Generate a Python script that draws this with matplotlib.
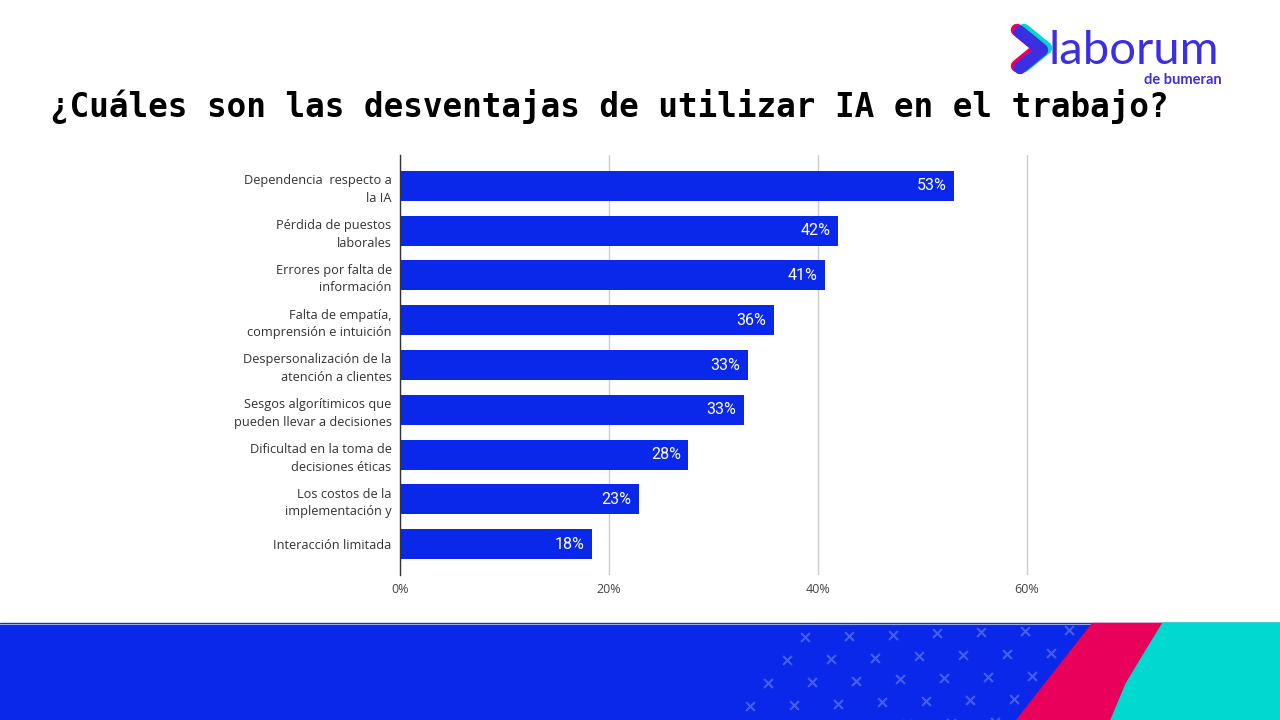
import numpy as np
import matplotlib
matplotlib.use("Agg")
import matplotlib.pyplot as plt
from matplotlib.patches import Rectangle, Polygon

# data
categories = [
    "Dependencia  respecto a\nla IA",
    "Pérdida de puestos\nlaborales",
    "Errores por falta de\ninformación",
    "Falta de empatía,\ncomprensión e intuición",
    "Despersonalización de la\natención a clientes",
    "Sesgos algorítimicos que\npueden llevar a decisiones",
    "Dificultad en la toma de\ndecisiones éticas",
    "Los costos de la\nimplementación y",
    "Interacción limitada",
]
shares = [53.0, 41.9, 40.7, 35.8, 33.3, 32.9, 27.6, 22.9, 18.4]
value_labels = ["53%", "42%", "41%", "36%", "33%", "33%", "28%", "23%", "18%"]
x_ticks = [0, 20, 40, 60]
x_tick_labels = ["0%", "20%", "40%", "60%"]

title = "¿Cuáles son las desventajas de utilizar IA en el trabajo?"

BLUE = "#0a28ea"
PINK = "#e8005a"
CYAN = "#00d8d0"
LOGO = "#3a2fe2"

fig = plt.figure(figsize=(12.8, 7.2), dpi=100)
fig.patch.set_facecolor("white")

# background / decoration layer in pixel coords
bg = fig.add_axes([0, 0, 1, 1], zorder=-1)
bg.set_xlim(0, 1280)
bg.set_ylim(720, 0)
bg.axis("off")

band = Rectangle((0, 623), 1280, 97, color=BLUE, zorder=1)
bg.add_patch(band)
bg.plot([0, 1280], [623.5, 623.5], color="#9aa8ee", lw=0.8, zorder=2)

# crosses pattern
cx, cy = [], []
for j in range(-1, 5):
    for i in range(0, 9):
        cx.append(805 + 44 * i - 18.5 * j)
        cy.append(637 + 23 * j - 1.2 * i)
sc = bg.scatter(cx, cy, marker="x", s=40, color="#4660ee", linewidths=1.5, zorder=3)
sc.set_clip_path(band)

bg.add_patch(Polygon([(1092, 623), (1280, 623), (1280, 720), (1016, 720)],
                     closed=True, color=PINK, zorder=4))
bg.add_patch(Polygon([(1163, 623), (1147, 649), (1126, 684), (1111, 720),
                      (1280, 720), (1280, 623)], closed=True, color=CYAN, zorder=5))

# logo chevron
def chevron(dx, dy, color, z):
    bg.plot([1019 + dx, 1041 + dx, 1019 + dx], [31 + dy, 49 + dy, 67 + dy], color=color,
            lw=9, solid_capstyle="round", solid_joinstyle="round", zorder=z)

chevron(5, -1, CYAN, 6)
chevron(-2, -1, PINK, 7)
chevron(1, 1, LOGO, 8)

fig.text(1049 / 1280, 1 - 64 / 720, "laborum", fontsize=34, family="Lato",
         color=LOGO, ha="left", va="baseline")
fig.text(1222 / 1280, 1 - 84 / 720, "de bumeran", fontsize=10.5, family="Lato",
         fontweight="bold", color=LOGO, ha="right", va="baseline")

fig.text(50 / 1280, 1 - 106 / 720, title, fontsize=23.5, family="DejaVu Sans Mono",
         fontweight="bold", color="black", ha="left", va="center")

# chart
px_per_unit = (1027 - 400) / 60
xmax = 60.4
ax = fig.add_axes([400 / 1280, 1 - 575 / 720, xmax * px_per_unit / 1280, 420 / 720])
ypos = np.arange(len(categories))
ax.barh(ypos, shares, height=0.67, color=BLUE, zorder=3)
ax.set_ylim(len(categories) - 1 + 0.69, -0.69)
ax.set_xlim(0, xmax)

for y, v, lab in zip(ypos, shares, value_labels):
    ax.annotate(lab, (v, y), xytext=(-5.5, 0), textcoords="offset points",
                ha="right", va="center", color="white", fontsize=11.5,
                family="Roboto", zorder=4)

ax.set_yticks(ypos)
ax.set_yticklabels(categories, fontsize=9.2, family="Open Sans", color="#333333",
                   linespacing=1.45)
ax.set_xticks(x_ticks)
ax.set_xticklabels(x_tick_labels, fontsize=9, family="Open Sans", color="#444444")
ax.tick_params(axis="both", length=0)
ax.tick_params(axis="y", pad=6)
ax.tick_params(axis="x", pad=6)

ax.grid(axis="x", color="#cccccc", lw=1, zorder=0)
ax.grid(axis="y", visible=False)
for s in ["top", "right", "bottom"]:
    ax.spines[s].set_visible(False)
ax.spines["left"].set_color("#333333")
ax.spines["left"].set_linewidth(1)
ax.spines["left"].set_zorder(5)
ax.set_facecolor("none")

fig.savefig("out.png", dpi=100, facecolor="white")
